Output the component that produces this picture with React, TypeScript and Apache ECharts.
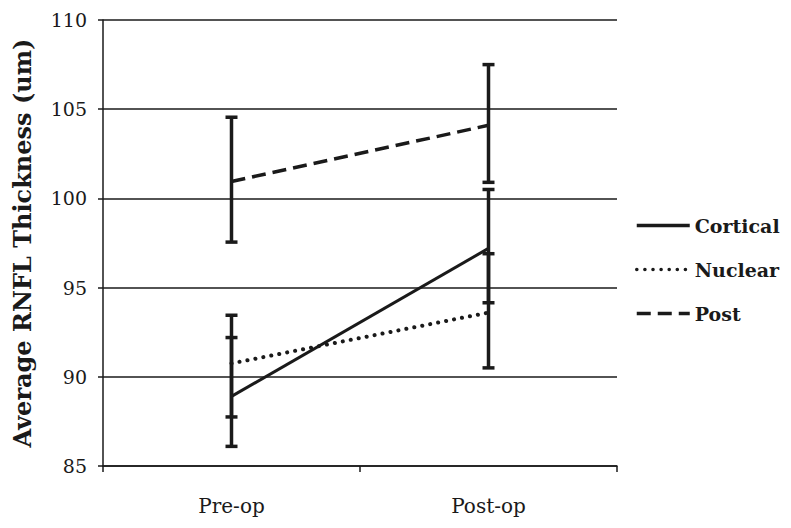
import React, { useEffect, useRef } from "react";
import * as echarts from "echarts";

const categories = ["Pre-op", "Post-op"];
const seriesNames = ["Cortical", "Nuclear", "Post"];
const cortical = [88.9, 97.2];
const nuclear = [90.75, 93.6];
const post = [100.95, 104.1];
const corticalLow = [86.1, 94.15];
const corticalHigh = [92.2, 100.5];
const nuclearLow = [87.75, 90.5];
const nuclearHigh = [93.45, 96.9];
const postLow = [97.55, 100.9];
const postHigh = [104.55, 107.5];
const yTicks = { min: 85, max: 110, interval: 5 };

const INK = "#1a1a1a";
const FONT = "DejaVu Serif";

function errData(lo: number[], hi: number[]) {
  return categories.map((_, i) => [i, lo[i], hi[i]]);
}

function errSeries(name: string, lo: number[], hi: number[]) {
  return {
    name,
    type: "custom",
    z: 5,
    encode: { x: 0, y: [1, 2] },
    data: errData(lo, hi),
    renderItem: (params: any, api: any) => {
      const x = api.value(0);
      const a = api.coord([x, api.value(1)]);
      const b = api.coord([x, api.value(2)]);
      const hw = 6;
      return {
        type: "group",
        children: [
          { type: "line", shape: { x1: a[0], y1: a[1], x2: b[0], y2: b[1] }, style: { stroke: INK, lineWidth: 3.5 } },
          { type: "line", shape: { x1: a[0] - hw, y1: a[1], x2: a[0] + hw, y2: a[1] }, style: { stroke: INK, lineWidth: 3.5 } },
          { type: "line", shape: { x1: b[0] - hw, y1: b[1], x2: b[0] + hw, y2: b[1] }, style: { stroke: INK, lineWidth: 3.5 } },
        ],
      };
    },
  };
}

export default function App() {
  const ref = useRef<HTMLDivElement>(null);
  useEffect(() => {
    if (!ref.current) return;
    const chart = echarts.init(ref.current, undefined, { renderer: "svg" });
    chart.setOption({
      animation: false,
      backgroundColor: "#ffffff",
      textStyle: { fontFamily: FONT, color: INK },
      grid: { left: 103, right: 174, top: 20, bottom: 62 },
      legend: {
        data: seriesNames,
        orient: "vertical",
        left: 630,
        top: 211,
        itemWidth: 53,
        itemHeight: 14,
        itemGap: 25,
        itemStyle: { color: "transparent", borderWidth: 0, opacity: 0 },
        lineStyle: { width: 3.5 },
        textStyle: { fontFamily: FONT, fontSize: 19, fontWeight: "bold", color: INK },
      },
      xAxis: {
        type: "category",
        data: categories,
        boundaryGap: true,
        axisLine: { lineStyle: { color: INK, width: 1.5 } },
        axisTick: { show: true, length: 6, alignWithLabel: false, lineStyle: { color: INK, width: 1.5 } },
        axisLabel: { fontFamily: FONT, fontSize: 20, color: INK, margin: 30 },
        splitLine: { show: false },
      },
      yAxis: {
        type: "value",
        min: yTicks.min,
        max: yTicks.max,
        interval: yTicks.interval,
        name: "Average RNFL Thickness (um)",
        nameLocation: "middle",
        nameRotate: 90,
        nameGap: 69,
        nameTextStyle: { fontFamily: FONT, fontSize: 24, fontWeight: "bold", color: INK },
        axisLine: { show: true, lineStyle: { color: INK, width: 1.5 } },
        axisTick: { show: true, length: 5, lineStyle: { color: INK, width: 1.5 } },
        axisLabel: { fontFamily: FONT, fontSize: 19, color: INK, margin: 16 },
        splitLine: { show: true, lineStyle: { color: INK, width: 1.5 } },
      },
      series: [
        {
          name: "Cortical",
          type: "line",
          data: cortical,
          symbol: "none",
          lineStyle: { color: INK, width: 3, type: "solid" },
          itemStyle: { color: INK },
          z: 3,
        },
        {
          name: "Nuclear",
          type: "line",
          data: nuclear,
          symbol: "none",
          lineStyle: { color: INK, width: 4, type: [0.1, 8], cap: "round" },
          itemStyle: { color: INK },
          z: 3,
        },
        {
          name: "Post",
          type: "line",
          data: post,
          symbol: "none",
          lineStyle: { color: INK, width: 3.5, type: [14, 7] },
          itemStyle: { color: INK },
          z: 3,
        },
        errSeries("Cortical SD", corticalLow, corticalHigh),
        errSeries("Nuclear SD", nuclearLow, nuclearHigh),
        errSeries("Post SD", postLow, postHigh),
      ],
    });
    return () => chart.dispose();
  }, []);
  return <div ref={ref} style={{ position: "fixed", left: 0, top: 0, width: 791, height: 528 }} />;
}
